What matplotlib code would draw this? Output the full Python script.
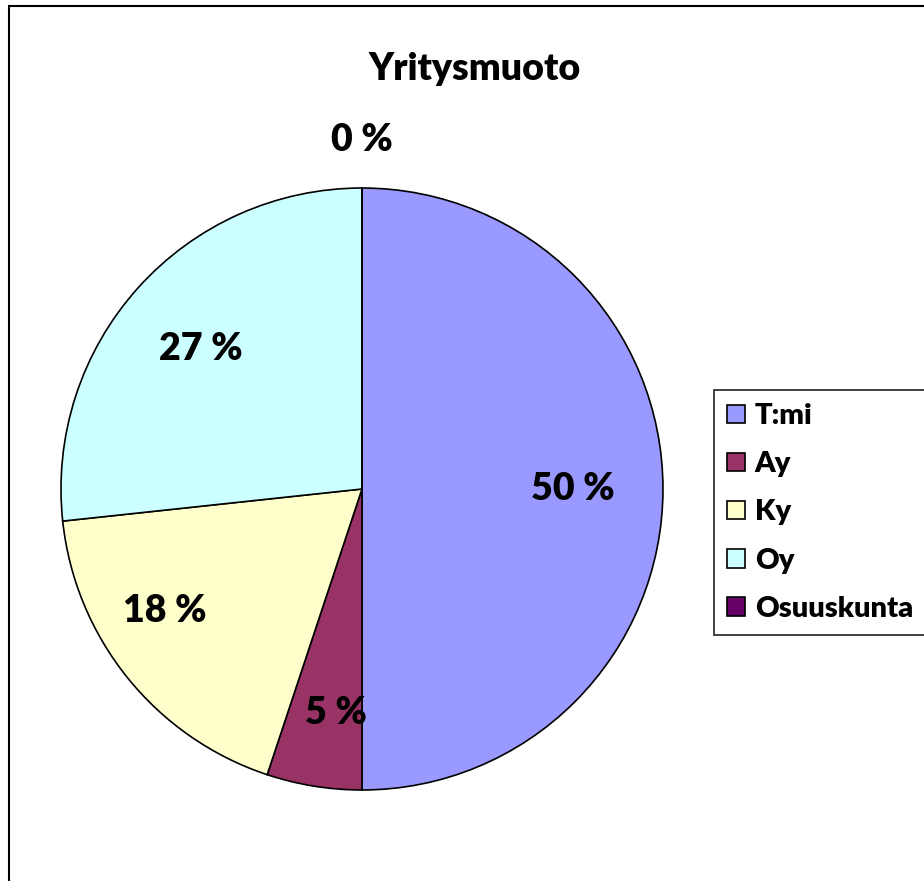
import numpy as np
import matplotlib.pyplot as plt
from matplotlib.patches import Rectangle

plt.rcParams['font.family'] = ['Lato', 'DejaVu Sans']

categories = ['T:mi', 'Ay', 'Ky', 'Oy', 'Osuuskunta']
values = [50.0, 5.1, 18.2, 26.7, 0.0]
labels = ['50 %', '5 %', '18 %', '27 %', '0 %']
colors = ['#9999FF', '#993366', '#FFFFCC', '#CCFFFF', '#660066']

# label placement (radius, angle nudge in degrees), Excel "best fit" look
label_r = [0.70, 0.75, 0.77, 0.71, 1.16]
label_dt = [0, 2.5, -7, 1, 0]

fig = plt.figure(figsize=(9.24, 8.81), dpi=100)
fig.patches.append(Rectangle((9 / 924, -0.1), 1.2, (881 - 6) / 881 + 0.1,
                             transform=fig.transFigure, fill=False,
                             edgecolor='black', linewidth=1.5))

ax = fig.add_axes([0.066, 0.1033, 0.6515, 0.6833])
wedges, _ = ax.pie(values, colors=colors, startangle=90, counterclock=False,
                   radius=1.0, wedgeprops=dict(edgecolor='black', linewidth=1.2))
ax.set_xlim(-1, 1)
ax.set_ylim(-1, 1)
ax.set_aspect('equal')
ax.axis('off')

for w, lab, r, dt in zip(wedges, labels, label_r, label_dt):
    mid = np.deg2rad((w.theta1 + w.theta2) / 2 + dt)
    ax.text(r * np.cos(mid), r * np.sin(mid), lab, ha='center', va='center',
            fontsize=27, fontweight='heavy')

fig.text(0.514, 0.922, 'Yritysmuoto', ha='center', va='center',
         fontsize=27, fontweight='heavy')

leg = fig.legend(wedges, categories, loc='upper left',
                 bbox_to_anchor=(714 / 924, 1 - 390 / 881),
                 prop={'weight': 'heavy', 'size': 21},
                 frameon=True, fancybox=False, handlelength=0.6, handleheight=0.6,
                 handletextpad=0.35, labelspacing=0.76, borderpad=0.45,
                 borderaxespad=0)
leg.get_frame().set_edgecolor('black')
leg.get_frame().set_linewidth(1.3)

fig.savefig('out.png', dpi=100)
